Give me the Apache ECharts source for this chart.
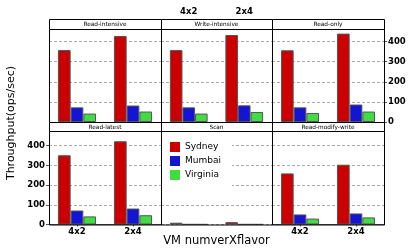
<!DOCTYPE html>
<html><head><meta charset="utf-8">
<script src="https://cdn.jsdelivr.net/npm/echarts@6/dist/echarts.min.js"></script>
<style>html,body{margin:0;padding:0;background:#fff}#c{width:415px;height:249px}</style>
</head><body><div id="c"></div>
<script>
const categories = ['4x2', '2x4'];
const panelNames = ['Read-intensive', 'Write-intensive', 'Read-only', 'Read-latest', 'Scan', 'Read-modify-write'];
const seriesNames = ['Sydney', 'Mumbai', 'Virginia'];
const sydney   = [[358, 428], [358, 433], [357, 440], [351, 422], [9, 12], [259, 303]];
const mumbai   = [[73, 82], [73, 83], [73, 87], [71, 81], [1, 1], [51, 56]];
const virginia = [[42, 52], [42, 50], [45, 52], [41, 47], [1, 1], [30, 36]];
const yTicks = [0, 100, 200, 300, 400];
const yTitle = 'Throughput(ops/sec)';
const xTitle = 'VM numverXflavor';

const colors = ['#cc0000', '#1414d6', '#40dd40'];
const values = [sydney, mumbai, virginia];

const colLeft = [49, 161, 272], colW = [112, 111, 112];
const rowTop = [29, 131], rowH = [93, 93.5], stripH = [10, 9];
const yMax = [463, 474];
const FONT = 'DejaVu Sans';

const grids = [], xAxes = [], yAxes = [], series = [], graphics = [];
panelNames.forEach((name, p) => {
  const r = Math.floor(p / 3), c = p % 3;
  grids.push({left: colLeft[c], top: rowTop[r], width: colW[c], height: rowH[r], containLabel: false});
  const showBottom = (r === 1 && c !== 1);
  const showTop = (r === 0 && c === 1);
  xAxes.push({
    type: 'category', gridIndex: p, data: categories,
    position: showTop ? 'top' : 'bottom',
    offset: showTop ? stripH[0] : 0,
    axisLine: {show: showTop || showBottom, lineStyle: {color: '#555'}},
    axisTick: {show: showTop || showBottom, alignWithLabel: true, length: 2, lineStyle: {color: '#555'}},
    axisLabel: {show: showTop || showBottom, fontFamily: FONT, fontWeight: 'bold', fontSize: 8.5, color: '#000', margin: 3}
  });
  const showLeft = (r === 1 && c === 0);
  const showRight = (r === 0 && c === 2);
  yAxes.push({
    type: 'value', gridIndex: p, min: 0, max: yMax[r], interval: 100,
    position: showRight ? 'right' : 'left',
    axisLine: {show: showLeft || showRight, lineStyle: {color: '#555'}},
    axisTick: {show: showLeft || showRight, length: 3, customValues: yTicks, lineStyle: {color: '#555'}},
    axisLabel: {show: showLeft || showRight, customValues: yTicks, fontFamily: FONT, fontWeight: 'bold', fontSize: 8.5, color: '#000', margin: 4},
    splitLine: {show: true, lineStyle: {color: '#aaa', type: [3, 2], width: 1}}
  });
  seriesNames.forEach((s, k) => {
    series.push({
      type: 'bar', name: s, xAxisIndex: p, yAxisIndex: p, data: values[k][p],
      barGap: '0%', barCategoryGap: '32%',
      itemStyle: {color: colors[k], borderColor: '#555', borderWidth: 1},
      emphasis: {disabled: true}, animation: false
    });
  });
  // frame
  graphics.push({type: 'rect', z: 10, silent: true,
    shape: {x: colLeft[c] + 0.5, y: rowTop[r] + 0.5, width: colW[c], height: rowH[r]},
    style: {fill: 'none', stroke: '#000', lineWidth: 1}});
  // strip
  graphics.push({type: 'rect', z: 10, silent: true,
    shape: {x: colLeft[c] + 0.5, y: rowTop[r] - stripH[r] + 0.5, width: colW[c], height: stripH[r]},
    style: {fill: '#fff', stroke: '#000', lineWidth: 1}});
  graphics.push({type: 'text', z: 11, silent: true,
    x: colLeft[c] + colW[c] / 2, y: rowTop[r] - stripH[r] / 2 + 0.5,
    style: {text: name, fontFamily: FONT, fontSize: 5.8, fill: '#000', align: 'center', verticalAlign: 'middle'}});
});

// legend background
graphics.push({type: 'rect', z: 5, silent: true,
  shape: {x: 162, y: 136, width: 70, height: 54}, style: {fill: '#fff'}});
graphics.push({type: 'text', z: 11, silent: true, x: 11, y: 123, rotation: Math.PI / 2,
  style: {text: yTitle, fontFamily: FONT, fontSize: 11, fill: '#000', align: 'center', verticalAlign: 'middle'}});
graphics.push({type: 'text', z: 11, silent: true, x: 216.5, y: 241,
  style: {text: xTitle, fontFamily: FONT, fontSize: 11.5, fill: '#000', align: 'center', verticalAlign: 'middle'}});

const chart = echarts.init(document.getElementById('c'), null, {renderer: 'canvas'});
chart.setOption({
  animation: false,
  grid: grids, xAxis: xAxes, yAxis: yAxes, series: series,
  legend: {data: seriesNames, orient: 'vertical', left: 170, top: 142, z: 6,
    itemWidth: 10, itemHeight: 10, itemGap: 4, icon: 'rect', padding: 0,
    itemStyle: {borderWidth: 0},
    textStyle: {fontFamily: FONT, fontSize: 9, color: '#000'}},
  graphic: graphics
});
</script></body></html>
